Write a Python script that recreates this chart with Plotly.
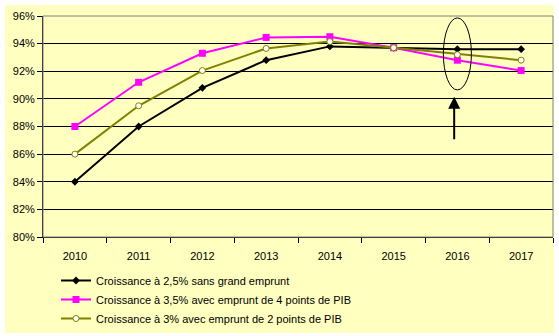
import plotly.graph_objects as go

years = ["2010", "2011", "2012", "2013", "2014", "2015", "2016", "2017"]
s_black = [84.0, 88.0, 90.8, 92.8, 93.8, 93.7, 93.6, 93.6]
s_magenta = [88.0, 91.2, 93.3, 94.45, 94.5, 93.7, 92.8, 92.05]
s_olive = [86.0, 89.5, 92.05, 93.65, 94.15, 93.7, 93.2, 92.8]
names = [
    "Croissance à 2,5% sans grand emprunt",
    "Croissance à 3,5% avec emprunt de 4 points de PIB",
    "Croissance à 3% avec emprunt de 2 points de PIB",
]
y_ticks = [80, 82, 84, 86, 88, 90, 92, 94, 96]
y_labels = [f"{v}%" for v in y_ticks]

BG = "#FFFFC0"
FONT = "Liberation Sans, Arial, sans-serif"

fig = go.Figure()
fig.add_trace(go.Scatter(
    x=years, y=s_black, name=names[0], mode="lines+markers",
    line=dict(color="black", width=2),
    marker=dict(symbol="diamond", size=6, color="black"),
))
fig.add_trace(go.Scatter(
    x=years, y=s_magenta, name=names[1], mode="lines+markers",
    line=dict(color="#FF00FF", width=2),
    marker=dict(symbol="square", size=7, color="#FF00FF"),
))
fig.add_trace(go.Scatter(
    x=years, y=s_olive, name=names[2], mode="lines+markers",
    line=dict(color="#808000", width=2),
    marker=dict(symbol="circle", size=6, color="white",
                line=dict(color="#808000", width=1)),
))

W, H = 559, 336
ml, mr, mt, mb = 43, 6, 16, 99
pw, ph = W - ml - mr, H - mt - mb

def px2paper_x(px):
    return (px - ml) / pw

def px2paper_y(py):
    return (H - mb - py) / ph

# yellow chart area background
fig.add_shape(type="rect", xref="paper", yref="paper", layer="below",
              x0=px2paper_x(5), x1=px2paper_x(554),
              y0=px2paper_y(333), y1=px2paper_y(5),
              fillcolor=BG, line=dict(width=0))
# gray plot border (top/right)
fig.add_shape(type="rect", xref="paper", yref="paper", layer="above",
              x0=0, x1=1, y0=0, y1=1,
              line=dict(color="#808080", width=1))
# ellipse around 2016
fig.add_shape(type="circle", xref="x", yref="y",
              x0=6 - 0.22, x1=6 + 0.22, y0=90.65, y1=95.86,
              line=dict(color="black", width=1))
# arrow
fig.add_annotation(x=5.95, y=90.15, ax=5.95, ay=86.96, xref="x", yref="y",
                   axref="x", ayref="y", text="", showarrow=True,
                   arrowhead=2, arrowsize=1.2, arrowwidth=2, arrowcolor="black")

fig.update_layout(
    width=W, height=H,
    margin=dict(l=ml, r=mr, t=mt, b=mb, autoexpand=False),
    paper_bgcolor="white", plot_bgcolor=BG,
    font=dict(family=FONT, size=11, color="black"),
    showlegend=True,
    legend=dict(x=px2paper_x(56), y=px2paper_y(266), xanchor="left", yanchor="top",
                bgcolor="rgba(0,0,0,0)", font=dict(size=11), tracegroupgap=0),
    xaxis=dict(type="category", tickson="boundaries", ticks="outside", ticklen=5,
               tickcolor="black", showline=True, linecolor="black", linewidth=1,
               showgrid=False, range=[-0.5, 7.5], fixedrange=True,
               ticklabelstandoff=9),
    yaxis=dict(range=[80, 96], tickvals=y_ticks, ticktext=y_labels, ticks="outside",
               ticklen=5, tickcolor="black", showline=True, linecolor="black",
               linewidth=1, showgrid=True, gridcolor="black", gridwidth=1,
               zeroline=False, fixedrange=True),
)

fig.write_html("out.html")
